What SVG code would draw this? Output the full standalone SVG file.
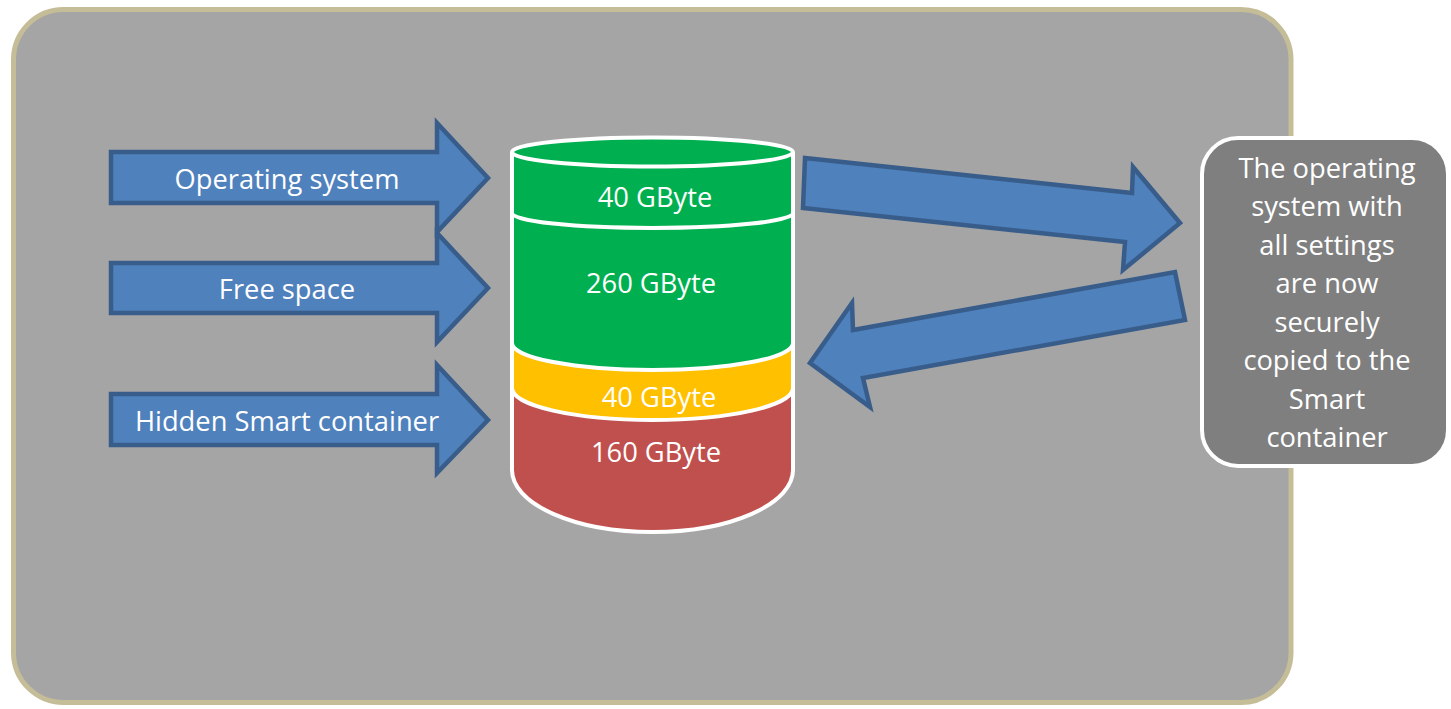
<svg xmlns="http://www.w3.org/2000/svg" width="1451" height="709" viewBox="0 0 1451 709">
<style>
.arrow{fill:#4f81bd;stroke:#385d8a;stroke-width:4.5;stroke-linejoin:miter}
.t{font-family:"Open Sans","Liberation Sans",sans-serif;font-size:27.3px;fill:#ffffff;text-anchor:middle}
.cyl{stroke:#ffffff;stroke-width:4;fill:none}
.top{stroke:#ffffff;stroke-width:4;fill:#00b050}
</style>
<rect width="1451" height="709" fill="#ffffff"/>
<g id="background">
<rect x="13.5" y="9.5" width="1277.5" height="693" rx="50" ry="50" fill="#a5a5a5" stroke="#c4bd97" stroke-width="5"/>
</g>
<g id="connectors">
<g id="arrow-os">
<path class="arrow" d="M111,152 L437,152 L437,123 L488,178 L437,232 L437,203 L111,203 Z"/>
<text class="t" x="287" y="189">Operating system</text>
</g>
<g id="arrow-free">
<path class="arrow" d="M111,263 L437,263 L437,233 L488,288 L437,342 L437,313 L111,313 Z"/>
<text class="t" x="287" y="299">Free space</text>
</g>
<g id="arrow-hidden">
<path class="arrow" d="M111,394 L437,394 L437,365 L488,420 L437,473 L437,445 L111,445 Z"/>
<text class="t" x="287" y="431">Hidden Smart container</text>
</g>
<path id="arrow-copy" class="arrow" d="M805,158 L1132,193 L1133,167 L1180,223 L1123,270 L1125,242 L803,208 Z"/>
<path id="arrow-back" class="arrow" d="M1175,272 L1185,320 L863,378 L870,407 L810,363 L852,303 L853,330 Z"/>
</g>
<g id="disk">
<path d="M512,152 L512,470 A140.5,62 0 0 0 793,470 L793,152 Z" fill="#c0504d"/>
<path d="M512,152 L512,388 A140.5,32 0 0 0 793,388 L793,152 Z" fill="#ffc000"/>
<path d="M512,152 L512,343 A140.5,27 0 0 0 793,343 L793,152 Z" fill="#00b050"/>
<path class="cyl" d="M512,213 A140.5,15 0 0 0 793,213"/>
<path class="cyl" d="M512,343 A140.5,27 0 0 0 793,343"/>
<path class="cyl" d="M512,388 A140.5,32 0 0 0 793,388"/>
<path class="cyl" d="M512,152 L512,470 A140.5,62 0 0 0 793,470 L793,152"/>
<ellipse class="top" cx="652.5" cy="152" rx="140.5" ry="14.5"/>
<text class="t" x="655" y="207">40 GByte</text>
<text class="t" x="651" y="293">260 GByte</text>
<text class="t" x="659" y="407">40 GByte</text>
<text class="t" x="656" y="462">160 GByte</text>
</g>
<g id="note">
<rect x="1202" y="138" width="246" height="328" rx="36" ry="36" fill="#7f7f7f" stroke="#ffffff" stroke-width="4"/>
<text class="t" x="1327" y="178">The operating</text>
<text class="t" x="1327" y="216.4">system with</text>
<text class="t" x="1327" y="254.9">all settings</text>
<text class="t" x="1327" y="293.3">are now</text>
<text class="t" x="1327" y="331.7">securely</text>
<text class="t" x="1327" y="370.1">copied to the</text>
<text class="t" x="1327" y="408.6">Smart</text>
<text class="t" x="1327" y="447">container</text>
</g>
</svg>
